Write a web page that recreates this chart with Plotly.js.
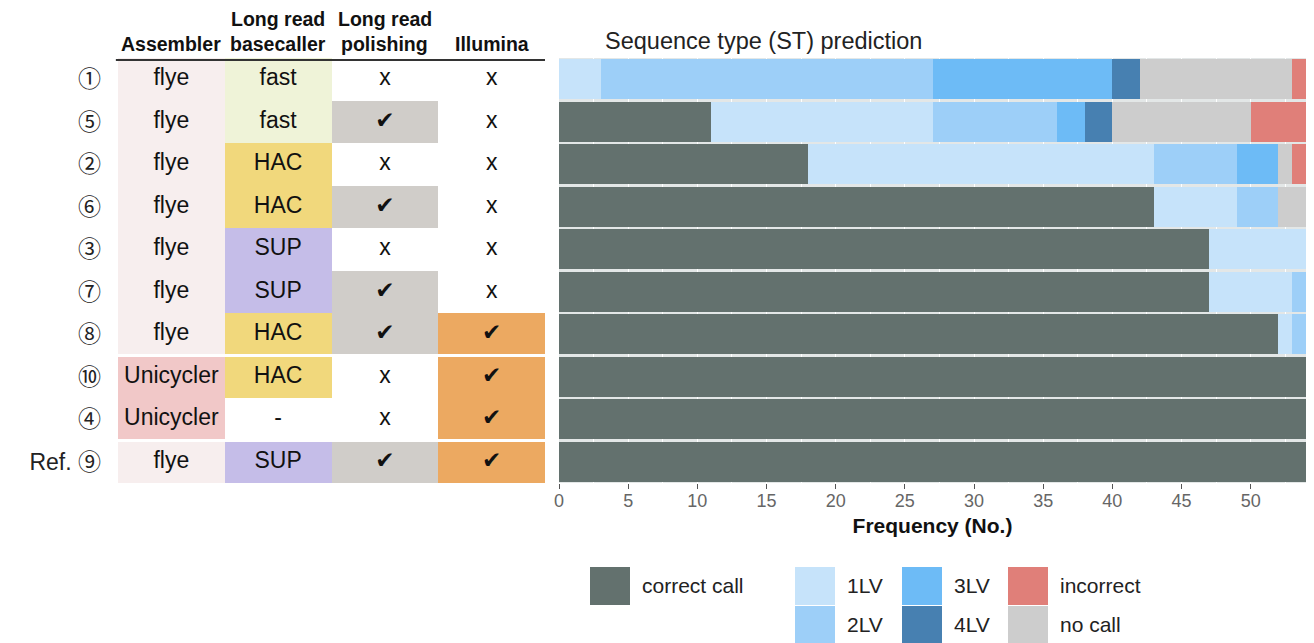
<!DOCTYPE html>
<html><head><meta charset="utf-8">
<script src="https://cdn.plot.ly/plotly-3.0.1.min.js"></script>
<style>html,body{margin:0;padding:0;background:#fff}#chart{width:1314px;height:643px}</style>
</head><body><div id="chart"></div>
<script>
// ---------- data ----------
const rowLabels   = ['①','⑤','②','⑥','③','⑦','⑧','⑩','④','Ref. ⑨'];
const assembler   = ['flye','flye','flye','flye','flye','flye','flye','Unicycler','Unicycler','flye'];
const basecaller  = ['fast','fast','HAC','HAC','SUP','SUP','HAC','HAC','-','SUP'];
const polishing   = ['x','✔','x','✔','x','✔','✔','x','x','✔'];
const illumina    = ['x','x','x','x','x','x','✔','✔','✔','✔'];
const headerTop    = ['', 'Long read', 'Long read', ''];
const headerBottom = ['Assembler', 'basecaller', 'polishing', 'Illumina'];
const groupBreaksAfter = ['⑧','④'];

const categories = ['correct call','1LV','2LV','3LV','4LV','no call','incorrect'];
const correctCall = [0, 11, 18, 43, 47, 47, 52, 54, 54, 54];
const lv1         = [3, 16, 25, 6, 7, 6, 1, 0, 0, 0];
const lv2         = [24, 9, 6, 3, 0, 1, 1, 0, 0, 0];
const lv3         = [13, 2, 3, 0, 0, 0, 0, 0, 0, 0];
const lv4         = [2, 2, 0, 0, 0, 0, 0, 0, 0, 0];
const noCall      = [11, 10, 1, 2, 0, 0, 0, 0, 0, 0];
const incorrect   = [1, 4, 1, 0, 0, 0, 0, 0, 0, 0];
const xTickVals   = [0, 5, 10, 15, 20, 25, 30, 35, 40, 45, 50];

// ---------- styles ----------
const W = 1314, H = 643;
const px = x => x / W, py = y => 1 - y / H;
const FONT = 'Liberation Sans, Arial, Helvetica, sans-serif';
const seriesColors = ['#63716e', '#c6e3fa', '#9dcff8', '#6dbbf6', '#4780b1', '#cdcdcd', '#e07f79'];
const seriesValues = [correctCall, lv1, lv2, lv3, lv4, noCall, incorrect];

const cellColors = {
  white: '#ffffff', flye: '#f7eeee', Unicycler: '#f1c8c8', fast: '#eff3d8',
  HAC: '#f1d87c', SUP: '#c5bde8', polish: '#d0cdc9', illum: '#eca961'
};
const codeOrder = ['white','flye','Unicycler','fast','HAC','SUP','polish','illum'];
const code = k => codeOrder.indexOf(k);
const z = rowLabels.map((_, i) => [
  code(assembler[i] in cellColors ? assembler[i] : 'white'),
  code(basecaller[i] in cellColors ? basecaller[i] : 'white'),
  polishing[i] === '✔' ? code('polish') : code('white'),
  illumina[i] === '✔' ? code('illum') : code('white')
]);
const n = codeOrder.length;
const colorscale = [];
codeOrder.forEach((k, i) => { colorscale.push([i / n, cellColors[k]]); colorscale.push([(i + 1) / n, cellColors[k]]); });

const traces = [];
traces.push({
  type: 'heatmap', x: [0, 1, 2, 3], y: rowLabels, z: z, xaxis: 'x2', yaxis: 'y',
  colorscale: colorscale, zmin: -0.5, zmax: n - 0.5, showscale: false, hoverinfo: 'skip', xgap: 0, ygap: 0
});
const tx = [], ty = [], tt = [];
const cols = [assembler, basecaller, polishing, illumina];
cols.forEach((arr, c) => arr.forEach((v, r) => { tx.push(c); ty.push(rowLabels[r]); tt.push(v); }));
traces.push({
  type: 'scatter', mode: 'text', x: tx, y: ty, text: tt, xaxis: 'x2', yaxis: 'y',
  textfont: { family: FONT + ', DejaVu Sans', size: 23, color: '#111' },
  hoverinfo: 'skip', showlegend: false
});
categories.forEach((name, k) => {
  traces.push({
    type: 'bar', orientation: 'h', name: name, x: seriesValues[k], y: rowLabels,
    xaxis: 'x', yaxis: 'y', marker: { color: seriesColors[k], line: { width: 0 } },
    showlegend: false
  });
});

// ---------- layout decorations ----------
const shapes = [];
const annotations = [];
shapes.push({ type: 'line', xref: 'x2 domain', yref: 'paper', x0: -0.005, x1: 1.0, y0: py(60), y1: py(60),
  line: { color: '#333', width: 2 } });
groupBreaksAfter.forEach(lbl => {
  const idx = rowLabels.indexOf(lbl);
  shapes.push({ type: 'line', xref: 'x2', yref: 'y', x0: -0.5, x1: 3.5, y0: idx + 0.5, y1: idx + 0.5,
    line: { color: '#ffffff', width: 3 }, layer: 'above' });
});
headerBottom.forEach((t, i) => {
  annotations.push({ xref: 'x2', yref: 'paper', x: i, y: py(44), text: '<b>' + t + '</b>', showarrow: false,
    xanchor: 'center', yanchor: 'middle', font: { family: FONT, size: 19.5, color: '#111' } });
  if (headerTop[i]) annotations.push({ xref: 'x2', yref: 'paper', x: i, y: py(19), text: '<b>' + headerTop[i] + '</b>', showarrow: false,
    xanchor: 'center', yanchor: 'middle', font: { family: FONT, size: 19.5, color: '#111' } });
});
annotations.push({ xref: 'paper', yref: 'paper', x: px(603), y: py(41), xanchor: 'left', yanchor: 'middle',
  text: 'Sequence type (ST) prediction', showarrow: false,
  font: { family: FONT, size: 23.5, color: '#222' } });
const legendSlots = { 'correct call': [0, 0], '1LV': [1, 0], '2LV': [1, 1], '3LV': [2, 0], '4LV': [2, 1], 'incorrect': [3, 0], 'no call': [3, 1] };
const legColX = [590, 795, 902, 1008], legRowY = [567, 606], boxW = 40, boxH = 38;
categories.forEach((name, k) => {
  const [c, r] = legendSlots[name];
  const x0 = legColX[c], y0 = legRowY[r];
  shapes.push({ type: 'rect', xref: 'paper', yref: 'paper', x0: px(x0), x1: px(x0 + boxW), y0: py(y0), y1: py(y0 + boxH),
    fillcolor: seriesColors[k], line: { width: 0 } });
  annotations.push({ xref: 'paper', yref: 'paper', x: px(x0 + boxW + 10), y: py(y0 + boxH / 2 - 1), xanchor: 'left', yanchor: 'middle',
    text: name, showarrow: false, font: { family: FONT, size: 21, color: '#222' } });
});

const layout = {
  width: W, height: H, margin: { l: 0, r: 0, t: 0, b: 0 },
  paper_bgcolor: '#ffffff', plot_bgcolor: '#e3e7e7',
  barmode: 'stack', bargap: 0.07, showlegend: false,
  xaxis: {
    domain: [px(559), px(1306)], range: [0, 54], anchor: 'y',
    tickmode: 'array', tickvals: xTickVals, ticks: 'outside', ticklen: 5, tickcolor: '#555',
    ticklabelstandoff: -4,
    tickfont: { family: FONT, size: 18, color: '#666' },
    showgrid: true, gridcolor: '#ffffff', gridwidth: 1,
    minor: { tickmode: 'linear', tick0: 0, dtick: 2.5, showgrid: true, gridcolor: '#ffffff', gridwidth: 1 },
    zeroline: false, showline: false, fixedrange: true,
    title: { text: '<b>Frequency (No.)</b>', standoff: 8, font: { family: FONT, size: 21, color: '#111' } }
  },
  xaxis2: {
    domain: [px(118), px(545)], range: [-0.5, 3.5], anchor: 'y',
    showticklabels: false, ticks: '', showgrid: false, zeroline: false, showline: false, fixedrange: true
  },
  yaxis: {
    domain: [py(483), py(58)], type: 'category', categoryarray: rowLabels, categoryorder: 'array',
    autorange: 'reversed', anchor: 'x2', ticks: '', showgrid: false, zeroline: false, showline: false,
    ticklabelstandoff: 16,
    tickfont: { family: 'Liberation Sans, Noto Sans CJK JP, sans-serif', size: 23, color: '#222' }, fixedrange: true
  },
  shapes: shapes, annotations: annotations
};

Plotly.newPlot('chart', traces, layout, { staticPlot: true, displayModeBar: false });
</script>
</body></html>
